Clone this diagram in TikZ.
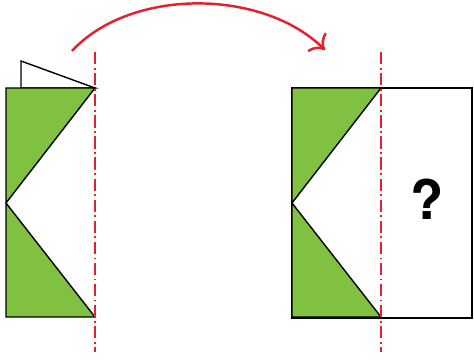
\documentclass[tikz,border=0pt]{standalone}
\usepackage{fontspec}
\setsansfont{TeX Gyre Heros}
\usetikzlibrary{arrows.meta}

\definecolor{leaf}{RGB}{128,193,66}
\definecolor{foldred}{RGB}{228,32,44}

\begin{document}
\begin{tikzpicture}[x=0.02cm,y=-0.02cm,>=Stealth,
 sheet/.style={draw,line width=0.8pt,line join=miter},
 part/.style={sheet,fill=leaf},
 axis/.style={draw=foldred,line width=0.6pt,dash pattern=on 7pt off 2pt on 1pt off 2pt},
 turn/.style={draw=foldred,line width=1.4pt,-{To[length=7pt,width=15pt]}},
 ask/.style={font=\sffamily\bfseries\fontsize{31}{36}\selectfont}]
\useasboundingbox (0,0) rectangle (474,359);
% folded sheet
\coordinate (f1) at (6,88); \coordinate (f2) at (95,88);
\coordinate (f3) at (6,203); \coordinate (f4) at (95,317); \coordinate (f5) at (6,317);
\path[sheet,fill=white] (21,61) -- (95,88) -- (21,88) -- cycle;
\path[part] (f1) -- (f2) -- (f3) -- (f4) -- (f5) -- cycle;
\path[axis] (95,52) -- (95,352);
% unfolded sheet
\path[sheet] (292,88) rectangle (472,318);
\path[part] (292,88) -- (381,88) -- (292,203) -- (381,317) -- (292,317) -- cycle;
\path[axis] (381,52) -- (381,352);
\node[ask] (q) at (427,199) {?};
% arrow
\coordinate (a1) at (72,51); \coordinate (a2) at (325,50);
\draw[turn] (a1) .. controls (130,-12) and (262,-12) .. (a2);
\end{tikzpicture}
\end{document}
